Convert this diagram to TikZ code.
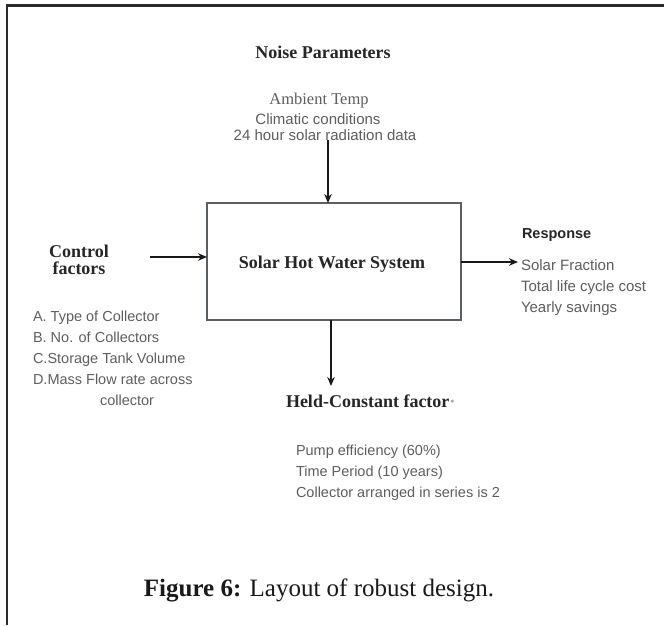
\documentclass[tikz,border=0pt]{standalone}
\usepackage{fontspec}
\setmainfont{Liberation Serif}
\setsansfont{Liberation Sans}
\usetikzlibrary{arrows.meta}
\definecolor{frame}{HTML}{2A2A2A}
\definecolor{boxline}{HTML}{5A5F63}
\definecolor{titlec}{HTML}{262626}
\definecolor{listc}{HTML}{5E5E5E}
\begin{document}
\begin{tikzpicture}[x=1pt,y=-1pt,
  every node/.style={inner sep=0pt,outer sep=0pt},
  title/.style={font=\fontsize{18}{18}\selectfont\bfseries,text=titlec},
  listtxt/.style={font=\sffamily\fontsize{14.5}{14.5}\selectfont,text=listc,anchor=base west},
  noisetxt/.style={font=\sffamily\fontsize{15}{15}\selectfont,text=listc,anchor=base},
  arr/.style={line width=2pt,black!90,-{Stealth[length=9pt,width=7.5pt]}},
  sysbox/.style={draw=boxline,line width=1.5pt,minimum width=254pt,minimum height=117pt}]
\useasboundingbox (0,0) rectangle (664,625);
\fill[white] (0,0) rectangle (664,625);
\draw[frame,line width=2.6pt] (7,625) -- (7,5.3) -- (664,5.3);

% noise parameters
\node[title,anchor=base] (noise) at (323,58) {Noise Parameters};
\node[font=\fontsize{16.5}{16.5}\selectfont,text=listc,anchor=base] (amb) at (319,104) {Ambient Temp};
\node[noisetxt] (clim) at (318,124) {Climatic conditions};
\node[noisetxt] (rad) at (325,140) {24 hour solar radiation data};

% system box
\node[sysbox] (sys) at (334,261.5) {};
\node[title,anchor=base] (systxt) at (332,268) {Solar Hot Water System};

% control factors
\node[title,anchor=base] (ctrl1) at (79,257) {Control};
\node[title,anchor=base] (ctrl2) at (79,274) {factors};
\node[listtxt] (ca) at (33,321) {A. Type of Collector};
\node[listtxt] (cb) at (33,342) {B. No. of Collectors};
\node[listtxt] (cc) at (33,363) {C.Storage Tank Volume};
\node[listtxt] (cd) at (33,384) {D.Mass Flow rate across};
\node[listtxt,anchor=base] (ce) at (127,405) {collector};

% response
\node[font=\sffamily\bfseries\fontsize{14.5}{14.5}\selectfont,text=titlec,anchor=base west] (resp) at (522,238) {Response};
\node[listtxt,font=\sffamily\fontsize{15}{15}\selectfont] (ra) at (521,270) {Solar Fraction};
\node[listtxt,font=\sffamily\fontsize{15}{15}\selectfont] (rb) at (521,291) {Total life cycle cost};
\node[listtxt,font=\sffamily\fontsize{15}{15}\selectfont] (rc) at (521,312) {Yearly savings};

% held-constant
\node[title,anchor=base west] (held) at (286,407) {Held-Constant factor{\color{black!35}·}};
\node[listtxt] (ha) at (296,455) {Pump efficiency (60\%)};
\node[listtxt] (hb) at (296,476) {Time Period (10 years)};
\node[listtxt] (hc) at (296,497) {Collector arranged in series is 2};

% caption
\node[font=\fontsize{25}{25}\selectfont,text=black!90,anchor=base] (cap) at (319,596) {\textbf{Figure 6:} Layout of robust design.};

% arrows
\coordinate (nin) at (328,140);
\coordinate (cin) at (150,257);
\coordinate (rout) at (518,262);
\coordinate (hout) at (331,386);
\draw[arr] (nin) -- (nin |- sys.north);
\draw[arr] (cin) -- (cin -| sys.west);
\draw[arr] (sys.east |- rout) -- (rout);
\draw[arr] (sys.south -| hout) -- (hout);
\end{tikzpicture}
\end{document}
